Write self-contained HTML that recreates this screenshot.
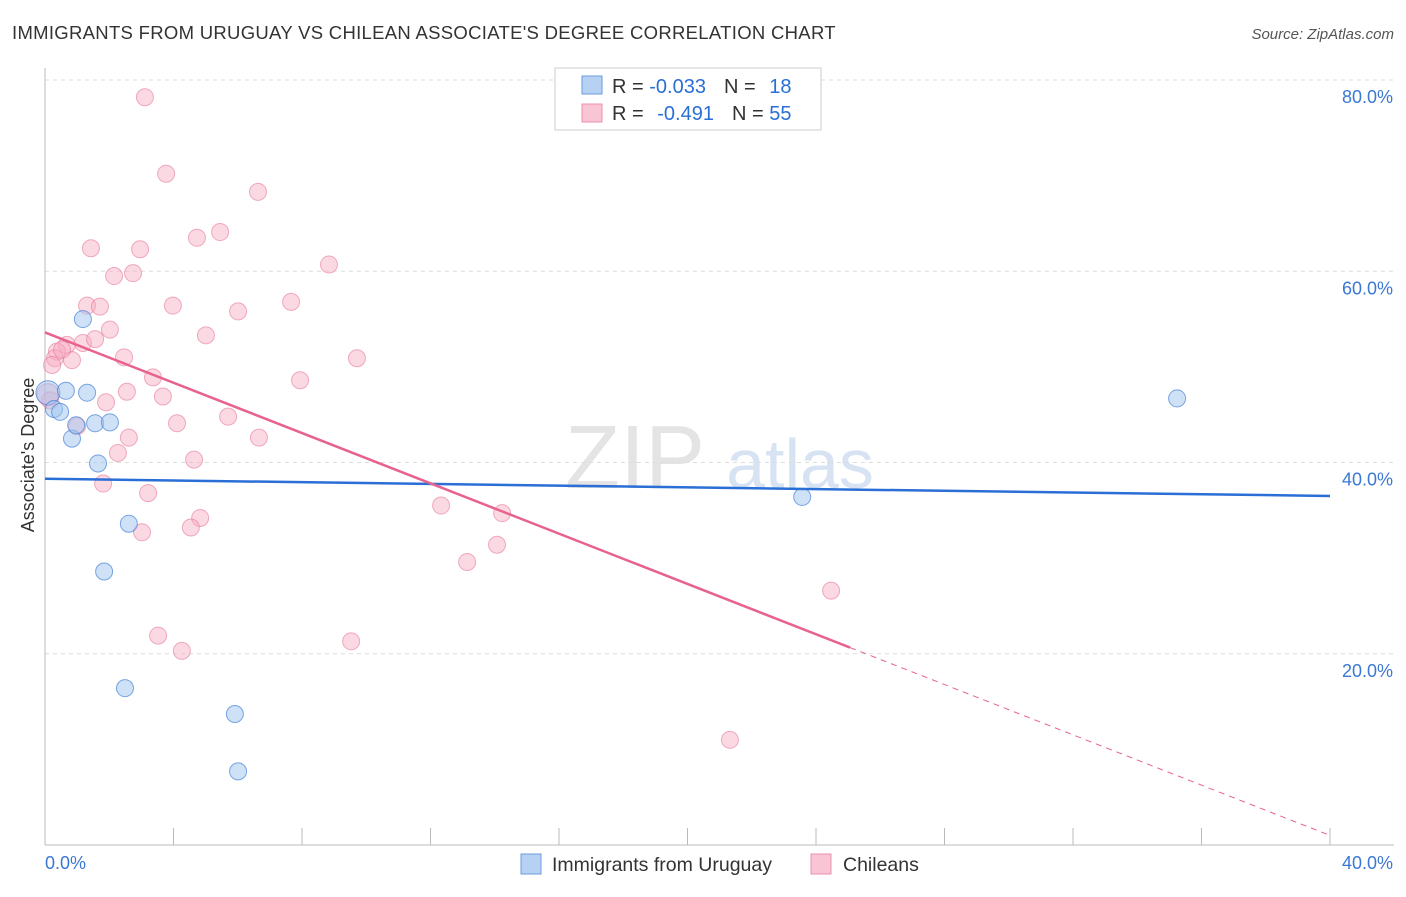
<!DOCTYPE html>
<html><head><meta charset="utf-8"><style>
body{margin:0;background:#fff;font-family:"Liberation Sans",sans-serif;}
svg text{font-family:"Liberation Sans",sans-serif;}
</style></head><body>
<svg id="chart" width="1406" height="892" xmlns="http://www.w3.org/2000/svg">
<text x="12" y="39" font-size="18.5" fill="#333" letter-spacing="0.3">IMMIGRANTS FROM URUGUAY VS CHILEAN ASSOCIATE'S DEGREE CORRELATION CHART</text>
<text x="1394" y="39" font-size="15" fill="#555" text-anchor="end" font-style="italic">Source: ZipAtlas.com</text>
<g>
<text x="635" y="488" font-size="90" fill="#e4e4e4" text-anchor="middle" font-family="Liberation Serif">ZIP</text>
<text x="800" y="488" font-size="70" fill="#d7e3f3" text-anchor="middle">atlas</text>
</g>
<g id="grid"></g>
<g id="axes"></g>
<g id="marks"></g>
<text transform="translate(34,455) rotate(-90)" font-size="18" fill="#333" text-anchor="middle">Associate's Degree</text>
<g>
<rect x="555" y="68" width="266" height="62" fill="#fff" stroke="#ccc"/>
<rect x="582" y="76" width="20" height="18" fill="#b7d1f3" stroke="#6a9be0"/>
<rect x="582" y="104" width="20" height="18" fill="#f9c4d4" stroke="#ec8fab"/>
<text x="612" y="93" font-size="20" fill="#333">R = <tspan fill="#2a6fd6">-0.033</tspan><tspan dx="18">N = </tspan><tspan fill="#2a6fd6" dx="8">18</tspan></text>
<text x="612" y="120" font-size="20" fill="#333">R = <tspan fill="#2a6fd6" dx="8">-0.491</tspan><tspan dx="18">N = </tspan><tspan fill="#2a6fd6">55</tspan></text>
</g>
<g>
<rect x="521" y="854" width="20" height="20" fill="#b7d1f3" stroke="#6a9be0"/>
<text x="552" y="871" font-size="19.5" fill="#333">Immigrants from Uruguay</text>
<rect x="811" y="854" width="20" height="20" fill="#f9c4d4" stroke="#ec8fab"/>
<text x="843" y="871" font-size="19.5" fill="#333">Chileans</text>
</g>
</svg>
<script>
const yTicks=[20,40,60,80];
const yTickLabels=["20.0%","40.0%","60.0%","80.0%"];
const xEndLabels=["0.0%","40.0%"];
const blueX=[0.09,0.28,0.47,0.65,1.18,1.31,1.56,2.02,0.84,1.65,0.97,2.61,1.84,2.49,5.91,6.01,23.57,35.24];
const blueY=[47.3,45.6,45.3,47.5,55.0,47.3,44.1,44.2,42.5,39.9,43.9,33.6,28.6,16.4,13.7,7.7,36.4,46.7];
const pinkX=[3.11,3.77,6.63,4.73,5.45,1.43,2.96,2.15,2.74,8.84,1.31,1.71,3.98,6.01,7.66,2.02,5.01,0.68,1.18,1.56,0.37,0.31,0.84,2.46,9.71,3.36,7.94,2.55,3.67,1.90,0.16,5.70,4.11,1.00,2.61,6.66,2.27,4.64,1.81,3.21,12.33,14.23,4.83,4.54,3.02,14.07,13.14,24.47,3.52,4.26,9.53,21.32,0.09,0.53,0.22];
const pinkY=[78.2,70.2,68.3,63.5,64.1,62.4,62.3,59.5,59.8,60.7,56.4,56.3,56.4,55.8,56.8,53.9,53.3,52.3,52.5,52.9,51.6,50.9,50.7,51.0,50.9,48.9,48.6,47.4,46.9,46.3,46.5,44.8,44.1,43.8,42.6,42.6,41.0,40.3,37.8,36.8,35.5,34.7,34.2,33.2,32.7,31.4,29.6,26.6,21.9,20.3,21.3,11.0,47.1,51.8,50.2];
const blueTrend=[38.3,36.5];
const pinkTrend=[53.6,1.0];
const pinkSolidEnd=25.06;

const NS="http://www.w3.org/2000/svg";
const X0=45,X1=1330,Y0=845,Y80=80;
function sx(v){return X0+(X1-X0)*v/40;}
function sy(v){return Y0-(Y0-Y80)*v/80;}
function mk(tag,attrs,parent){const e=document.createElementNS(NS,tag);for(const k in attrs)e.setAttribute(k,attrs[k]);parent.appendChild(e);return e;}
const grid=document.getElementById('grid'),axes=document.getElementById('axes'),marks=document.getElementById('marks');
yTicks.forEach((t,i)=>{
 const l=mk('line',{x1:X0,x2:1394,y1:sy(t),y2:sy(t),stroke:'#ddd','stroke-dasharray':'4,4'},grid);
 
 
 const tx=mk('text',{x:1393,y:sy(t)+23,'font-size':18,fill:'#3a78d4','text-anchor':'end'},axes);
 tx.textContent=yTickLabels[i];
 
 
});
const ax=mk('line',{x1:X0,x2:1394,y1:Y0,y2:Y0,stroke:'#bbb'},axes);


const ay=mk('line',{x1:X0,x2:X0,y1:68,y2:Y0,stroke:'#bbb'},axes);


for(let i=0;i<=10;i++){
 const t=mk('line',{x1:sx(i*4),x2:sx(i*4),y1:Y0-17,y2:Y0,stroke:'#bbb'},axes);
 
 
}
const xl0=mk('text',{x:45,y:869,'font-size':18,fill:'#3a78d4'},axes);
xl0.textContent=xEndLabels[0];


const xl1=mk('text',{x:1393,y:869,'font-size':18,fill:'#3a78d4','text-anchor':'end'},axes);
xl1.textContent=xEndLabels[1];



pinkX.forEach((x,i)=>{
 const c=mk('circle',{cx:sx(x),cy:sy(pinkY[i]),r:(i===52?11:8.5),fill:'rgba(246,170,194,0.45)',stroke:'rgba(232,120,155,0.6)','stroke-width':1},marks);
 
 
});
blueX.forEach((x,i)=>{
 const c=mk('circle',{cx:sx(x),cy:sy(blueY[i]),r:(i===0?12:8.5),fill:'rgba(160,195,240,0.5)',stroke:'rgba(70,130,215,0.7)','stroke-width':1},marks);
 
 
});
const bl=mk('line',{x1:sx(0),y1:sy(blueTrend[0]),x2:sx(40),y2:sy(blueTrend[1]),stroke:'#2a6fd6','stroke-width':2.5},marks);


const pAt=x=>pinkTrend[0]+(pinkTrend[1]-pinkTrend[0])*x/40;
const pl=mk('line',{x1:sx(0),y1:sy(pAt(0)),x2:sx(pinkSolidEnd),y2:sy(pAt(pinkSolidEnd)),stroke:'#e8628e','stroke-width':2.5},marks);


const pd=mk('line',{x1:sx(pinkSolidEnd),y1:sy(pAt(pinkSolidEnd)),x2:sx(40),y2:sy(pAt(40)),stroke:'#e8628e','stroke-width':1,'stroke-dasharray':'6,5'},marks);


</script>
</body></html>
